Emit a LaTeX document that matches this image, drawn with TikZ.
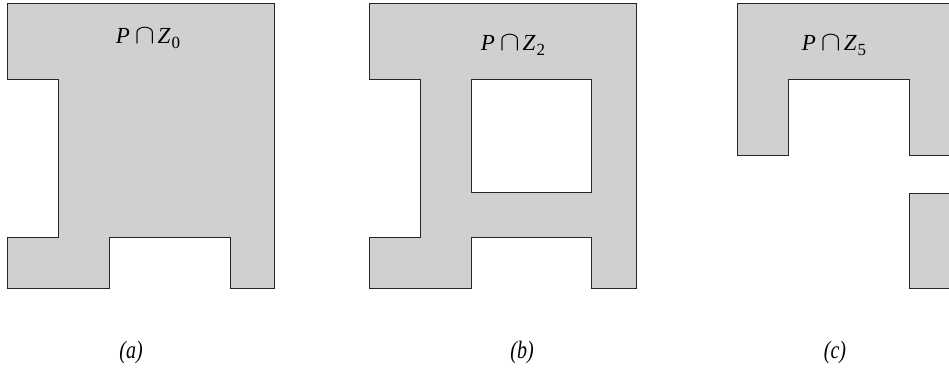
\documentclass[tikz,border=0pt]{standalone}
\usepackage{fontspec}
\setmainfont{Liberation Serif}
\begin{document}
\begin{tikzpicture}[x=1pt,y=-1pt,
  region/.style={fill={rgb,255:red,208;green,208;blue,208},draw=black!85,line width=0.9pt,line join=miter},
  lbl/.style={font=\fontsize{23}{23}\selectfont,inner sep=0pt},
  subcap/.style={font=\fontsize{25}{25}\selectfont\itshape,inner sep=0pt}]
\newcommand{\PZ}[1]{\textit{P}\kern5pt\scalebox{1.2}[1.1]{$\cap$}\kern3pt\textit{Z}\kern1pt\raisebox{-5pt}{\fontsize{17}{17}\selectfont #1}}
\newcommand{\SC}[1]{\scalebox{0.8}[1]{#1}}
\useasboundingbox (0,0) rectangle (949,368);
\clip (0,0) rectangle (949,368);
% (a)
\draw[region] (7.5,3.3) -- (274.5,3.3) -- (274.5,288.3) -- (230,288.3) -- (230,237.7)
  -- (109.3,237.7) -- (109.3,288.3) -- (7.5,288.3) -- (7.5,237.7) -- (58.3,237.7)
  -- (58.3,79) -- (7.5,79) -- cycle;
% (b)
\draw[region,even odd rule] (369,3.3) -- (636,3.3) -- (636,288.3) -- (591.7,288.3) -- (591.7,237.7)
  -- (471,237.7) -- (471,288.3) -- (369,288.3) -- (369,237.7) -- (420.3,237.7)
  -- (420.3,79) -- (369,79) -- cycle
  (471,79) -- (591.7,79) -- (591.7,192.7) -- (471,192.7) -- cycle;
% (c)
\draw[region] (737.3,3.3) -- (965,3.3) -- (965,155) -- (909.3,155) -- (909.3,79)
  -- (788.3,79) -- (788.3,155) -- (737.3,155) -- cycle;
\draw[region] (909.3,193.3) -- (965,193.3) -- (965,288.3) -- (909.3,288.3) -- cycle;
% labels
\node[lbl] (la) at (148,38) {\PZ{0}};
\node[lbl] (lb) at (513,45) {\PZ{2}};
\node[lbl] (lc) at (834,45) {\PZ{5}};
\node[subcap] (ca) at (131,352) {\SC{(a)}};
\node[subcap] (cb) at (522,352) {\SC{(b)}};
\node[subcap] (cc) at (835,352) {\SC{(c)}};
\end{tikzpicture}
\end{document}
